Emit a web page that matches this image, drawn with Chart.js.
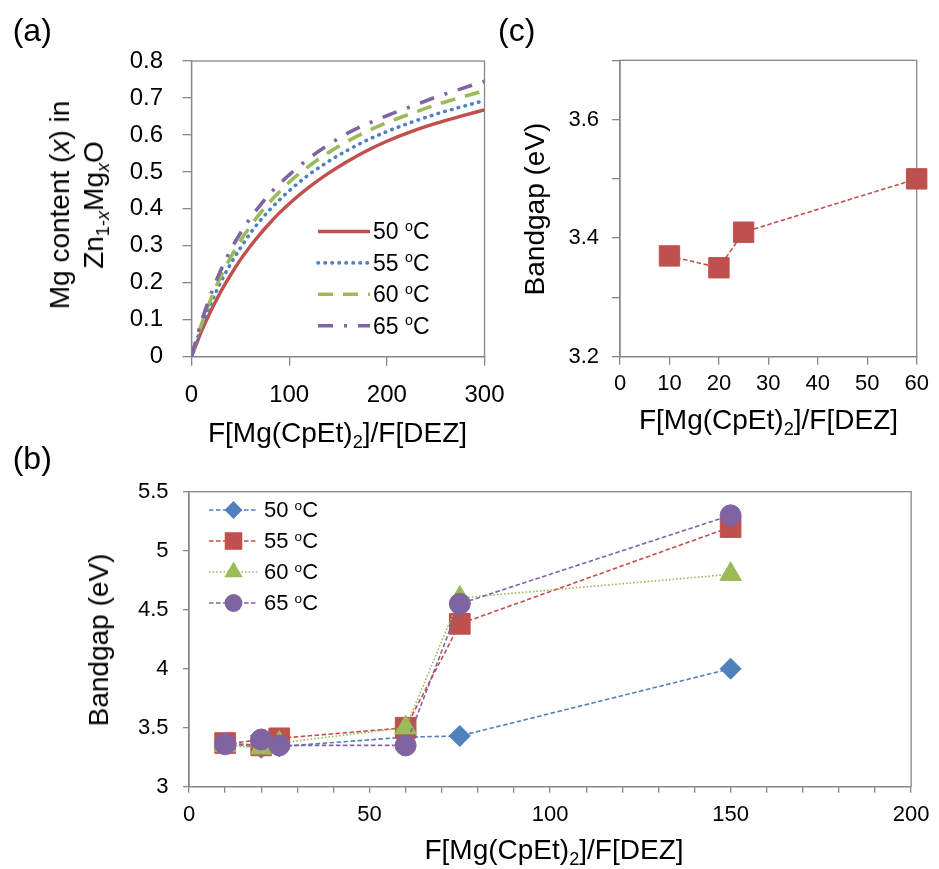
<!DOCTYPE html>
<html>
<head>
<meta charset="utf-8">
<script src="https://cdn.jsdelivr.net/npm/chart.js@4.4.0/dist/chart.umd.min.js"></script>
<style>
html,body{margin:0;padding:0;background:#fff;}
#wrap{position:relative;width:939px;height:869px;overflow:hidden;font-family:"Liberation Sans",Arial,Helvetica,sans-serif;color:#000;}
#wrap canvas{position:absolute;left:0;top:0;}
.t{position:absolute;white-space:nowrap;line-height:1;}
.t sub{font-size:0.65em;vertical-align:-0.32em;line-height:0;}
.v{position:absolute;white-space:nowrap;text-align:center;}
.v sub{font-size:0.65em;vertical-align:-0.32em;line-height:0;}
</style>
</head>
<body>
<div id="wrap">
<canvas id="ca" width="939" height="869"></canvas>
<canvas id="cb" width="939" height="869"></canvas>
<canvas id="cc" width="939" height="869"></canvas>
</div>
<script>
// ---------------- data ----------------
const temps = [50, 55, 60, 65];
const colors = ['#C0504D', '#4F81BD', '#9BBB59', '#8064A2'];   // panel (a) order: 50,55,60,65
// Panel (a): Mg content x vs flow ratio
const aFlow = [0, 5, 10, 20, 30, 40, 50, 60, 70, 80, 90, 100, 120, 140, 160, 180, 200, 225, 250, 275, 300];
const aX50 = [0, 0.034, 0.067, 0.125, 0.176, 0.221, 0.262, 0.298, 0.331, 0.361, 0.389, 0.414, 0.458, 0.496, 0.529, 0.558, 0.583, 0.609, 0.631, 0.650, 0.668];
const aX55 = [0, 0.041, 0.078, 0.145, 0.202, 0.251, 0.294, 0.333, 0.367, 0.397, 0.424, 0.449, 0.492, 0.528, 0.559, 0.586, 0.609, 0.634, 0.656, 0.675, 0.693];
const aX60 = [0, 0.045, 0.086, 0.157, 0.217, 0.268, 0.313, 0.352, 0.387, 0.418, 0.446, 0.472, 0.515, 0.552, 0.583, 0.610, 0.633, 0.658, 0.681, 0.701, 0.720];
const aX65 = [0, 0.049, 0.093, 0.170, 0.234, 0.288, 0.334, 0.374, 0.409, 0.440, 0.467, 0.492, 0.536, 0.573, 0.605, 0.630, 0.652, 0.677, 0.702, 0.724, 0.745];
// Panel (b): bandgap vs flow ratio
const bFlow = [10, 20, 25, 60, 75, 150];
const bGap50 = [3.37, 3.33, 3.34, 3.42, 3.43, 4.00];
const bGap55 = [3.37, 3.35, 3.41, 3.50, 4.38, 5.20];
const bGap60 = [3.35, 3.33, 3.37, 3.50, 4.60, 4.80];
const bGap65 = [3.36, 3.40, 3.35, 3.35, 4.55, 5.30];
// Panel (c): bandgap at 55 oC, low flow ratios
const cFlow = [10, 20, 25, 60];
const cGap = [3.37, 3.35, 3.41, 3.50];
// axis tick settings
const aYTicks = {min: 0, max: 0.8, step: 0.1};
const aXTicks = {min: 0, max: 300, step: 100};
const bYTicks = {min: 3, max: 5.5, step: 0.5};
const bXTicks = {min: 0, max: 200, step: 10, label: 50};
const cYTicks = {min: 3.2, max: 3.7, step: 0.1, label: 0.2};
const cXTicks = {min: 0, max: 60, step: 10};

// ---------------- helpers ----------------
const FONT = '"Liberation Sans", Arial, Helvetica, sans-serif';
const AXIS = '#878787';
const pts = (xs, ys) => xs.map((x, i) => ({x: x, y: ys[i]}));

function axis(t, o) {
  return {
    type: 'linear', min: t.min, max: t.max,
    border: {display: true, color: AXIS, width: 1.3},
    grid: {display: true, drawOnChartArea: false, drawTicks: true, tickLength: o.tl, color: AXIS, lineWidth: 1.3},
    ticks: {
      stepSize: t.step, autoSkip: false, padding: o.pad, color: '#000', maxRotation: 0, minRotation: 0,
      font: {family: FONT, size: o.fs},
      callback: o.cb || undefined
    },
    afterFit(s) { if (s.isHorizontal()) s.height = o.size; else s.width = o.size; }
  };
}

const frame = {
  id: 'frame',
  beforeDatasetsDraw(chart) {
    const {ctx, chartArea: a} = chart;
    ctx.save();
    ctx.strokeStyle = AXIS; ctx.lineWidth = 1.3;
    ctx.strokeRect(a.left, a.top, a.right - a.left, a.bottom - a.top);
    ctx.restore();
  }
};

function drawMarker(ctx, style, r, x, y) {
  ctx.beginPath();
  if (style === 'circle') ctx.arc(x, y, r, 0, Math.PI * 2);
  else if (style === 'rect') { const s = r * Math.SQRT1_2; ctx.rect(x - s, y - s, 2 * s, 2 * s); }
  else if (style === 'rectRot') { ctx.moveTo(x - r, y); ctx.lineTo(x, y - r); ctx.lineTo(x + r, y); ctx.lineTo(x, y + r); ctx.closePath(); }
  else if (style === 'triangle') { ctx.moveTo(x, y - r); ctx.lineTo(x + 0.866 * r, y + r / 2); ctx.lineTo(x - 0.866 * r, y + r / 2); ctx.closePath(); }
  ctx.fill();
}

function makeLegend(cfg) {
  return {
    id: 'xlLegend',
    afterDatasetsDraw(chart) {
      const ctx = chart.ctx;
      chart.data.datasets.forEach((ds, i) => {
        const y = cfg.y0 + i * cfg.dy;
        ctx.save();
        ctx.strokeStyle = ds.borderColor;
        ctx.lineWidth = ds.borderWidth;
        ctx.lineCap = ds.borderCapStyle || 'butt';
        ctx.setLineDash(ds.borderDash || []);
        ctx.beginPath(); ctx.moveTo(cfg.x0, y); ctx.lineTo(cfg.x1, y); ctx.stroke();
        ctx.setLineDash([]);
        if (cfg.markers) {
          ctx.fillStyle = ds.pointBackgroundColor;
          drawMarker(ctx, ds.pointStyle, ds.pointRadius * cfg.mscale, (cfg.x0 + cfg.x1) / 2, y);
        }
        const fs = cfg.fs;
        const base = y + fs * 0.34;
        let x = cfg.tx;
        ctx.fillStyle = '#000';
        ctx.textBaseline = 'alphabetic';
        ctx.textAlign = 'left';
        ctx.font = fs + 'px ' + FONT;
        const num = ds.temp + ' ';
        ctx.fillText(num, x, base); x += ctx.measureText(num).width;
        ctx.font = (fs * 0.62) + 'px ' + FONT;
        ctx.fillText('o', x, base - fs * 0.36); x += ctx.measureText('o').width;
        ctx.font = fs + 'px ' + FONT;
        ctx.fillText('C', x, base);
        ctx.restore();
      });
    }
  };
}

function baseOptions(padding, xs, ys) {
  return {
    responsive: false, animation: false, events: [],
    layout: {padding: padding},
    plugins: {legend: {display: false}, tooltip: {enabled: false}},
    scales: {x: xs, y: ys}
  };
}

// ---------------- panel (a) ----------------
const aSeries = [aX50, aX55, aX60, aX65];
const aStyles = [
  {w: 3.4, dash: [], cap: 'butt'},
  {w: 3.6, dash: [0.5, 6.5], cap: 'round'},
  {w: 3.6, dash: [15, 10], cap: 'butt'},
  {w: 3.6, dash: [15, 11, 3, 11], cap: 'butt'}
];
new Chart(document.getElementById('ca'), {
  type: 'scatter',
  data: {
    datasets: aSeries.map((ys, i) => ({
      temp: temps[i], data: pts(aFlow, ys), showLine: true, pointRadius: 0,
      borderColor: colors[i], backgroundColor: colors[i], borderWidth: aStyles[i].w,
      borderDash: aStyles[i].dash, borderCapStyle: aStyles[i].cap, borderJoinStyle: 'round',
      cubicInterpolationMode: 'monotone', order: 3 - i
    }))
  },
  options: baseOptions({left: 0, top: 61, right: 939 - 484.5, bottom: 869 - 356.7 - 50},
    axis(aXTicks, {tl: 9, pad: 15.6, fs: 24, size: 50}),
    axis(aYTicks, {tl: 9, pad: 19.5, fs: 24, size: 191.5})),
  plugins: [frame, makeLegend({x0: 318, x1: 370, y0: 231.5, dy: 31.4, tx: 373, fs: 23, markers: false})]
});

// ---------------- panel (b) ----------------
const bSeries = [bGap50, bGap55, bGap60, bGap65];
const bColors = ['#4F81BD', '#C0504D', '#9BBB59', '#8064A2'];
const bMarks = [
  {s: 'rectRot', r: 10.5, dash: [4.5, 2.5]},
  {s: 'rect', r: 14.6, dash: [4.5, 2.5]},
  {s: 'triangle', r: 12.5, dash: [1.6, 2]},
  {s: 'circle', r: 10.5, dash: [4.5, 2.5]}
];
new Chart(document.getElementById('cb'), {
  type: 'scatter',
  data: {
    datasets: bSeries.map((ys, i) => ({
      temp: temps[i], data: pts(bFlow, ys), showLine: true, clip: false,
      borderColor: bColors[i], backgroundColor: bColors[i], borderWidth: 1.6, borderDash: bMarks[i].dash,
      pointStyle: bMarks[i].s, pointRadius: bMarks[i].r, pointBackgroundColor: bColors[i],
      pointBorderColor: bColors[i], pointBorderWidth: 1, order: 3 - i, tension: 0
    }))
  },
  options: baseOptions({left: 0, top: 491.7, right: 939 - 919, bottom: 869 - 786.7 - 40},
    axis(bXTicks, {tl: 6, pad: 9.5, fs: 22, size: 40,
      cb: v => (Math.round(v) % bXTicks.label === 0 ? String(Math.round(v)) : '')}),
    axis(bYTicks, {tl: 6, pad: 14.5, fs: 22, size: 189})),
  plugins: [frame, makeLegend({x0: 209, x1: 258, y0: 510, dy: 31, tx: 264, fs: 22, markers: true, mscale: 0.85})]
});

// ---------------- panel (c) ----------------
new Chart(document.getElementById('cc'), {
  type: 'scatter',
  data: {
    datasets: [{
      data: pts(cFlow, cGap), showLine: true, clip: false,
      borderColor: '#C0504D', backgroundColor: '#C0504D', borderWidth: 1.6, borderDash: [4.5, 2.5],
      pointStyle: 'rect', pointRadius: 14.4, pointBackgroundColor: '#C0504D', pointBorderColor: '#C0504D',
      pointBorderWidth: 1, tension: 0
    }]
  },
  options: baseOptions({left: 500, top: 60.3, right: 939 - 916.7, bottom: 869 - 356.7 - 45},
    axis(cXTicks, {tl: 8, pad: 6.5, fs: 22, size: 45}),
    axis(cYTicks, {tl: 8, pad: 13, fs: 22, size: 120,
      cb: v => (Math.round(v * 10) % 2 === 0 ? v.toFixed(1) : '')})),
  plugins: [frame]
});

// ---------------- text labels ----------------
const wrap = document.getElementById('wrap');
function label(html, x, baseline, fs, center) {
  const d = document.createElement('div');
  d.className = 't'; d.innerHTML = html;
  d.style.fontSize = fs + 'px';
  d.style.top = (baseline - 0.8465 * fs) + 'px';
  d.style.left = x + 'px';
  if (center) d.style.transform = 'translateX(-50%)';
  wrap.appendChild(d);
}
function vlabel(html, cx, cy, fs, lh) {
  const d = document.createElement('div');
  d.className = 'v'; d.innerHTML = html;
  d.style.fontSize = fs + 'px';
  d.style.lineHeight = lh + 'px';
  d.style.left = cx + 'px'; d.style.top = cy + 'px';
  d.style.transform = 'translate(-50%,-50%) rotate(-90deg)';
  wrap.appendChild(d);
}
const flowTitle = 'F[Mg(CpEt)<sub>2</sub>]/F[DEZ]';
label('(a)', 12.7, 41.3, 32, false);
label('(c)', 498, 41.3, 32, false);
label('(b)', 12.7, 469, 32, false);
label(flowTitle, 337.5, 443, 28, true);
label(flowTitle, 768.5, 430, 28, true);
label(flowTitle, 554, 860, 28, true);
vlabel('Mg content (<i>x</i>) in<br>Zn<sub>1-<i>x</i></sub>Mg<sub><i>x</i></sub>O', 77, 205, 28, 34);
vlabel('Bandgap (eV)', 535, 208.5, 28, 28);
vlabel('Bandgap (eV)', 99, 640, 28, 28);
</script>
</body>
</html>
